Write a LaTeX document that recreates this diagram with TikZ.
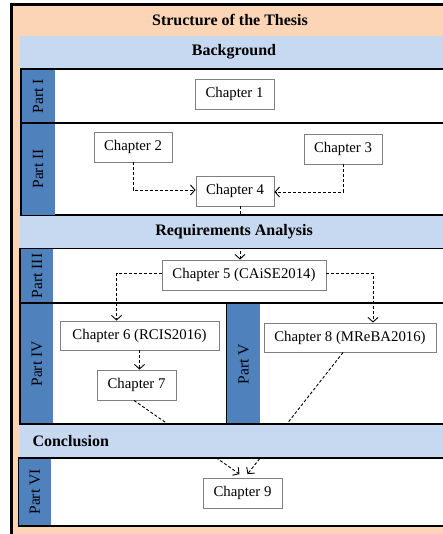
\documentclass[tikz,border=0pt]{standalone}
\usepackage{fontspec}
\setmainfont{Liberation Serif}
\usetikzlibrary{arrows.meta,calc}
\definecolor{peach}{HTML}{FBD5B5}
\definecolor{bandblue}{HTML}{C6D9F1}
\definecolor{stripblue}{HTML}{4F81BD}
\definecolor{boxgray}{HTML}{7F7F7F}
\tikzset{
  chap/.style={draw=boxgray, line width=0.9pt, fill=white, minimum height=30pt, inner sep=0pt,
    font=\fontsize{14.8}{17}\selectfont},
  band/.style={fill=bandblue, draw=none},
  partbox/.style={draw=black, line width=1.3pt, fill=white},
  strip/.style={fill=stripblue, draw=none},
  partlabel/.style={rotate=90, font=\fontsize{15.5}{17}\selectfont},
  head/.style={font=\fontsize{16}{18}\selectfont\bfseries},
  conn/.style={draw=black, line width=0.9pt, dash pattern=on 3pt off 2pt,
    -{Straight Barb[length=4.5pt,width=10pt,line width=0.9pt]}}
}
\begin{document}
\begin{tikzpicture}[x=1pt,y=-1pt]
\useasboundingbox (0,0) rectangle (443,534);
\clip (0,0) rectangle (443,534);
% outer frame
\draw[fill=peach, draw=black, line width=2.6pt] (11.5,4.5) rectangle (470,560);
\node[head] (title) at (230,20) {Structure of the Thesis};
% part boxes
\draw[partbox] (21,69) rectangle (460,123);
\fill[strip] (22,70) rectangle (54.5,122.3);
\node[partlabel] (p1) at (38.2,96) {Part I};
\draw[partbox] (21,123) rectangle (460,215);
\fill[strip] (22,123.7) rectangle (54.5,215);
\node[partlabel] (p2) at (38.2,169) {Part II};
\draw[partbox] (20,248.5) rectangle (460,303);
\fill[strip] (21,249.2) rectangle (53,302.3);
\node[partlabel] (p3) at (37,276) {Part III};
\draw[partbox] (20,303) rectangle (226.5,424);
\fill[strip] (21,303.7) rectangle (53,423.3);
\node[partlabel] (p4) at (37,364) {Part IV};
\draw[partbox] (226.5,303) rectangle (460,424);
\fill[strip] (227.2,303.7) rectangle (260,423.3);
\node[partlabel] (p5) at (243.6,364) {Part V};
\draw[partbox] (18.5,458) rectangle (460,526);
\fill[strip] (19.2,458.7) rectangle (51,525.3);
\node[partlabel] (p6) at (35,492) {Part VI};
% chapters (placed first so connectors can refer to them)
\node[chap, minimum width=79pt] (c1) at (234.5,94) {Chapter 1};
\node[chap, minimum width=78pt] (c2) at (133,147) {Chapter 2};
\node[chap, minimum width=78pt] (c3) at (343,149) {Chapter 3};
\node[chap, minimum width=78pt] (c4) at (235,191) {Chapter 4};
\node[chap, minimum width=164pt] (c5) at (244,275) {Chapter 5 (CAiSE2014)};
\node[chap, minimum width=159pt, minimum height=29pt] (c6) at (139.5,335.5) {Chapter 6 (RCIS2016)};
\node[chap, minimum width=79pt] (c7) at (136.5,385) {Chapter 7};
\node[chap, minimum width=172pt, minimum height=29pt] (c8) at (350,337.5) {Chapter 8 (MReBA2016)};
\node[chap, minimum width=79pt] (c9) at (242.5,493) {Chapter 9};
% connectors
\draw[conn] (c2.south) |- ([yshift=1pt]c4.west);
\draw[conn] (c3.south) |- ([yshift=-1pt]c4.east);
\draw[conn] ([xshift=5pt]c4.south) -- ([xshift=5pt]c4.south |- c5.north);
\draw[conn] ([yshift=2pt]c5.west) -| ([xshift=-23pt]c6.north);
\draw[conn] ([yshift=2pt]c5.east) -| ([xshift=23pt]c8.north);
\draw[conn] (c6.south) -- (c6.south |- c7.north);
\draw[conn] ([xshift=-2.5pt]c7.south) -- ([xshift=-3pt,yshift=3.5pt]c9.north);
\draw[conn] ([xshift=-7pt]c8.south) -- ([xshift=5pt,yshift=3.5pt]c9.north);
% bands (on top of the connectors, as in the reference)
\fill[band] (20,36) rectangle (460,68.3);
\node[head] (bg) at (234,52) {Background};
\fill[band] (20,215.7) rectangle (460,247.8);
\node[head] (req) at (234,232) {Requirements Analysis};
\fill[band] (20,424.7) rectangle (460,457.3);
\node[head, anchor=west] (concl) at (29,441) {Conclusion};
\end{tikzpicture}
\end{document}
